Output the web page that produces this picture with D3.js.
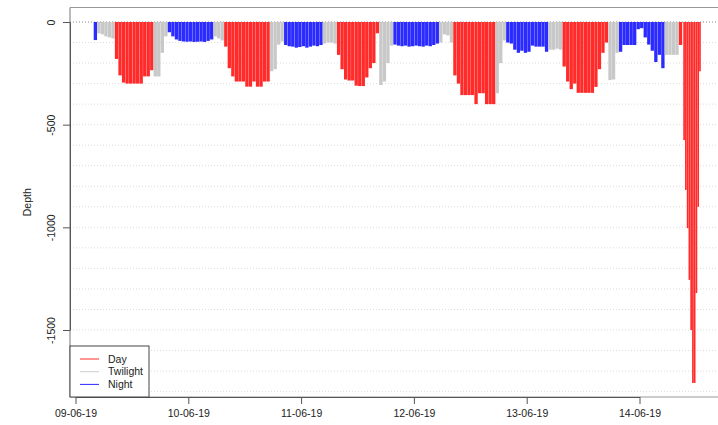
<!DOCTYPE html>
<html>
<head>
<meta charset="utf-8">
<script src="https://cdn.jsdelivr.net/npm/d3@7"></script>
<style>
    body { margin: 0; background: #fff; }
    text { font-family: "Liberation Sans", Arial, sans-serif; fill: #222; }
</style>
</head>
<body>
<svg id="chart" width="718" height="425"></svg>
<script>
/*globals d3*/

// dive records, one every 45 minutes from 09-06-19 04:15 (UTC)
// phase: N = night, T = twilight, D = day
var phase = ["N","T","T","T","T","T","D","D","D","D","D","D","D","D","D","D","D","T","T","T",
    "T","N","N","N","N","N","N","N","N","N","N","N","N","N","T","T","T","D","D","D",
    "D","D","D","D","D","D","D","D","D","D","T","T","T","T","N","N","N","N","N","N",
    "N","N","N","N","N","T","T","T","T","D","D","D","D","D","D","D","D","D","D","D",
    "D","T","T","T","T","N","N","N","N","N","N","N","N","N","N","N","N","N","T","T",
    "T","T","D","D","D","D","D","D","D","D","D","D","D","D","T","T","T","N","N","N",
    "N","N","N","N","N","N","N","N","N","T","T","T","T","D","D","D","D","D","D","D",
    "D","D","D","D","D","D","T","T","T","N","N","N","N","N","N","N","N","N","N","N",
    "N","N","T","T","T","T","D"];
var depth = [88,55,60,70,75,80,180,260,295,300,300,300,300,300,265,265,235,265,265,150,
    70,50,70,85,92,95,96,95,97,96,95,97,92,85,70,80,90,120,225,265,
    290,290,290,315,315,290,315,315,290,290,240,230,110,95,112,118,120,125,122,118,
    125,120,115,118,112,105,100,100,105,160,230,280,285,285,310,312,312,270,225,200,
    55,307,290,200,115,110,115,118,115,120,118,115,118,120,115,118,112,105,100,60,
    65,100,260,300,356,356,356,356,400,347,347,400,400,400,347,200,90,100,105,135,
    150,140,150,145,115,120,120,120,145,135,135,130,135,217,290,327,300,345,345,345,
    345,345,316,230,150,100,283,280,150,145,112,112,112,112,35,30,75,110,140,195,
    160,225,160,160,160,160,112];

// last deep dive was logged every 22.5 minutes, right after the records above
var diveDepth = [575,818,1004,1256,1500,1758,1758,1320,900,240];

var dayTicks = ["09-06-19","10-06-19","11-06-19","12-06-19","13-06-19","14-06-19"];
var depthTicks = [0, -500, -1000, -1500];
var legendNames = ["Day", "Twilight", "Night"];

var colours = { D: "#ff2b2b", T: "#c8c8c8", N: "#2b2bff" };
var legendColours = ["#ff2b2b", "#cfcfcf", "#2b2bff"];

var start = Date.UTC(2019, 5, 9, 4, 15);
var step = 45 * 60 * 1000;

// build one list of records
var records = [];
for (var i = 0; i < depth.length; i++) {
    records.push({ t: start + i * step, depth: -depth[i], phase: phase[i], dt: step });
}
var diveStart = start + depth.length * step;
for (var j = 0; j < diveDepth.length; j++) {
    records.push({ t: diveStart + j * step / 2, depth: -diveDepth[j], phase: "D", dt: step / 2 });
}

var svg = d3.select("#chart");
// (window.top is taken, so plotTop)
var plotLeft = 70, plotTop = 7.5, plotBottom = 397, plotRight = 760;

var parseDay = d3.utcParse("%d-%m-%y");
var x = d3.scaleUtc()
    .domain([parseDay(dayTicks[0]), parseDay(dayTicks[dayTicks.length - 1])])
    .range([75.5, 639.5]);
var y = d3.scaleLinear()
    .domain([0, -1500])
    .range([22, 330]);

// dotted grid every 100 m
var gridVals = d3.range(-1800, 1, 100);
svg.append("g").selectAll("line")
    .data(gridVals)
    .enter().append("line")
    .attr("x1", plotLeft).attr("x2", plotRight)
    .attr("y1", function (d) { return y(d); })
    .attr("y2", function (d) { return y(d); })
    .attr("stroke", function (d) { return d === 0 ? "#8a8a8a" : "#dcdcdc"; })
    .attr("stroke-dasharray", "1,2")
    .attr("stroke-width", 1);

// bars from the surface down to each depth
svg.append("g").selectAll("rect")
    .data(records)
    .enter().append("rect")
    .attr("x", function (d) {
        var w = x(d.t + d.dt) - x(d.t);
        return x(d.t) - w / 2;
    })
    .attr("width", function (d) { return (x(d.t + d.dt) - x(d.t)) * 0.94; })
    .attr("y", y(0))
    .attr("height", function (d) { return y(d.depth) - y(0); })
    .attr("fill", function (d) { return colours[d.phase]; });

// box
svg.append("line").attr("x1", plotLeft).attr("x2", plotRight).attr("y1", plotTop).attr("y2", plotTop)
    .attr("stroke", "#999");
svg.append("line").attr("x1", plotLeft).attr("x2", plotRight).attr("y1", plotBottom).attr("y2", plotBottom)
    .attr("stroke", "#999");
svg.append("line").attr("x1", plotLeft).attr("x2", plotLeft).attr("y1", plotTop).attr("y2", plotBottom)
    .attr("stroke", "#777");

// x axis, R style (line only between first and last tick)
var xAxis = d3.axisBottom(x)
    .tickValues(dayTicks.map(parseDay))
    .tickFormat(d3.utcFormat("%d-%m-%y"))
    .tickSizeInner(7).tickSizeOuter(0).tickPadding(6);
var gx = svg.append("g").attr("transform", "translate(0," + plotBottom + ")").call(xAxis);
gx.select(".domain").attr("stroke", "#555");
gx.selectAll(".tick line").attr("stroke", "#555");
gx.selectAll("text").attr("font-size", "10.5px").attr("font-family", "Liberation Sans, Arial, sans-serif")
    .attr("fill", "#222");

// y axis with labels turned along the axis
var yAxis = d3.axisLeft(y)
    .tickValues(depthTicks)
    .tickSizeInner(7).tickSizeOuter(0).tickFormat(function (d) { return d; });
var gy = svg.append("g").attr("transform", "translate(" + plotLeft + ",0)").call(yAxis);
gy.select(".domain").attr("stroke", "#555");
gy.selectAll(".tick line").attr("stroke", "#555");
gy.selectAll("text")
    .attr("font-size", "10.5px")
    .attr("font-family", "Liberation Sans, Arial, sans-serif")
    .attr("fill", "#222")
    .attr("x", 0).attr("dy", null)
    .attr("text-anchor", "middle")
    .attr("transform", "translate(-15,0) rotate(-90)");

svg.append("text")
    .attr("transform", "translate(31," + ((plotTop + plotBottom) / 2) + ") rotate(-90)")
    .attr("text-anchor", "middle")
    .attr("font-size", "10.5px")
    .text("Depth");

// legend
var lg = svg.append("g");
lg.append("rect")
    .attr("x", plotLeft).attr("y", 346)
    .attr("width", 79).attr("height", plotBottom - 346)
    .attr("fill", "#fff").attr("stroke", "#444");
legendNames.forEach(function (name, k) {
    var ly = 359 + k * 12.7;
    lg.append("line")
        .attr("x1", 80).attr("x2", 99)
        .attr("y1", ly).attr("y2", ly)
        .attr("stroke", legendColours[k]).attr("stroke-width", 1);
    lg.append("text")
        .attr("x", 108).attr("y", ly + 3.6)
        .attr("font-size", "10.5px")
        .text(name);
});
</script>
</body>
</html>
